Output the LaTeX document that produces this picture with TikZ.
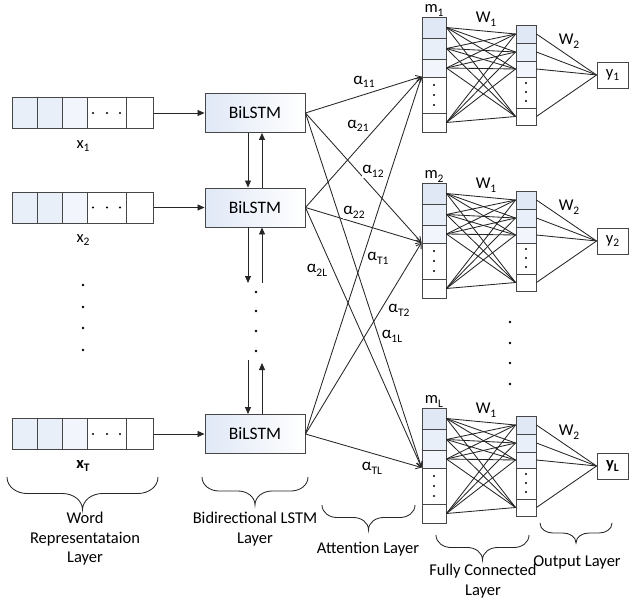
\documentclass[tikz,border=0pt]{standalone}
\usepackage{fontspec}
\setmainfont{Carlito}
\usetikzlibrary{arrows.meta,calc}
\definecolor{tintA}{RGB}{224,232,246}
\definecolor{tintB}{RGB}{233,239,249}
\definecolor{tintC}{RGB}{242,246,252}
\definecolor{edge}{RGB}{70,70,70}
\newcommand{\lsub}[1]{\raisebox{-0.22em}{\fontsize{11.5}{11.5}\selectfont #1}}
\newcommand{\cbr}[5]{%
  \pgfmathsetmacro{\bxc}{(#1+#2)/2}%
  \pgfmathsetmacro{\bym}{-(#3+#4)/2}%
  \draw[brace] (#1,-#3) to[out=-90,in=180] ({#1+#5},\bym) -- ({\bxc-#5},\bym)
    to[out=0,in=90] (\bxc,-#4) to[out=90,in=180] ({\bxc+#5},\bym) -- ({#2-#5},\bym)
    to[out=0,in=-90] (#2,-#3);}
\begin{document}
\begin{tikzpicture}[x=1pt,y=1pt,
  conn/.style={line width=0.85pt, draw=black!85},
  att/.style={conn, -{Straight Barb[length=5pt,width=6pt]}},
  arr/.style={conn, -{Triangle[length=7pt,width=6pt]}},
  cell/.style={draw=edge, line width=0.9pt, inner sep=0pt},
  box/.style={draw=edge, line width=0.9pt, inner sep=0pt, fill=white},
  bil/.style={box, minimum width=100, minimum height=39, left color=tintA, right color=white, font=\fontsize{17.5}{20}\selectfont},
  lab/.style={inner sep=0.5pt, font=\fontsize{16.5}{19.5}\selectfont},
  alab/.style={inner sep=0.8pt, fill=white, font=\fontsize{17}{20}\selectfont},
  brace/.style={line width=0.85pt, draw=black!85}
]
\useasboundingbox (0,0) rectangle (629,-599);

% input arrays and BiLSTM boxes
\foreach \r/\yc in {1/113, 2/207.5, 3/434}{
  \foreach \i/\a/\b/\f in {1/12.7/37.7/tintB, 2/37.7/62.7/tintB, 3/62.7/87.7/tintC, 4/87.7/126.7/white, 5/126.7/153.3/white}
    \node[cell, fill=\f, minimum width={\b-\a}, minimum height=31] (a\r-\i) at ({(\a+\b)/2},-\yc) {};
  \foreach \xx in {93,107,120} \fill (\xx,-\yc) circle (1.1);
  \node[bil] (b\r) at (255,-\yc) {BiLSTM};
  \draw[arr] (a\r-5.east) -- (b\r.west);
}
\node[lab] (xl1) at (83,-146) {x\lsub{1}};
\node[lab] (xl2) at (83,-240) {x\lsub{2}};
\node[lab] (xl3) at (83,-466) {\textbf{x\lsub{T}}};
\foreach \yy in {285,307,328,350} \fill (83,-\yy) circle (1.4);

% BiLSTM vertical links
\draw[arr] ([xshift=-7pt]b1.south) -- ([xshift=-7pt]b2.north);
\draw[arr] ([xshift=7pt]b2.north) -- ([xshift=7pt]b1.south);
\coordinate (d1) at (248,-283); \coordinate (u1) at (262,-283);
\coordinate (d2) at (248,-360); \coordinate (u2) at (262,-363);
\draw[arr] ([xshift=-7pt]b2.south) -- (d1);
\draw[arr] (u1) -- ([xshift=7pt]b2.south);
\draw[arr] (d2) -- ([xshift=-7pt]b3.north);
\draw[arr] ([xshift=7pt]b3.north) -- (u2);
\foreach \yy in {292,311,331,351} \fill (256,-\yy) circle (1.4);

% groups
\foreach \g/\dy/\ml/\yl in {1/0/{m\lsub{1}}/{y\lsub{1}}, 2/166/{m\lsub{2}}/{y\lsub{2}}, 3/391/{m\lsub{L}}/{\textbf{y\lsub{L}}}}{
  \foreach \i/\a/\b/\f in {1/17/38/tintA, 2/38/59/tintB, 3/59/77/tintC, 4/77/113/white, 5/113/132/white}
    \node[cell, fill=\f, minimum width=24, minimum height={\b-\a}] (m\g-\i) at (434,{-(\a+\b)/2-\dy}) {};
  \foreach \i/\a/\b/\f in {1/25/43/tintA, 2/43/61/tintB, 3/61/77/tintC, 4/77/108/white, 5/108/125/white}
    \node[cell, fill=\f, minimum width=20, minimum height={\b-\a}] (h\g-\i) at (526,{-(\a+\b)/2-\dy}) {};
  \foreach \yy in {85,95,105} \fill (434,{-\yy-\dy}) circle (1.1);
  \foreach \yy in {83,92,101} \fill (526,{-\yy-\dy}) circle (1.1);
  \node[box, minimum width=31, minimum height=26, font=\fontsize{16.5}{19.5}\selectfont] (y\g) at (612.5,{-75-\dy}) {\yl};
  \node[lab] (ml\g) at (434,{-10.5-\dy}) {\ml};
  \node[lab] (wa\g) at (486,{-19-\dy}) {W\lsub{1}};
  \node[lab] (wb\g) at (569,{-41-\dy}) {W\lsub{2}};
  \foreach \i in {1,2,3,5}{
    \foreach \j in {1,2,3,5}{\draw[conn] (m\g-\i.east) -- (h\g-\j.west);}
    \draw[conn] (h\g-\i.east) -- (y\g.west);}
}
\foreach \yy in {322,343,363,384} \fill (510,-\yy) circle (1.4);

% attention
\foreach \r in {1,2,3}{\foreach \g in {1,2,3}{\draw[att] (b\r.east) -- (m\g-4.north west);}}
\node[alab] (al11) at (364,-82) {α\lsub{11}};
\node[alab] (al21) at (358,-126) {α\lsub{21}};
\node[alab] (al12) at (373,-171) {α\lsub{12}};
\node[alab] (al22) at (354,-212) {α\lsub{22}};
\node[alab] (alT1) at (378,-258) {α\lsub{T1}};
\node[alab] (al2L) at (317,-270) {α\lsub{2L}};
\node[alab] (alT2) at (399,-310) {α\lsub{T2}};
\node[alab] (al1L) at (392,-336) {α\lsub{1L}};
\node[alab] (alTL) at (372,-468) {α\lsub{TL}};

% braces and layer labels
\cbr{7}{158}{477}{510}{20}
\cbr{202}{308}{477}{505}{17}
\cbr{322}{415}{505}{530}{15}
\cbr{436}{529}{535}{560}{15}
\cbr{540}{612}{523}{543}{13}
\node[lab, align=center] (lw) at (85,-539) {Word\\Representataion\\Layer};
\node[lab, align=center] (lb) at (255,-529) {Bidirectional LSTM\\Layer};
\node[lab] (la) at (368,-549) {Attention Layer};
\node[lab, align=center] (lf) at (483,-581) {Fully Connected\\Layer};
\node[lab] (lo) at (577,-562) {Output Layer};
\end{tikzpicture}
\end{document}
